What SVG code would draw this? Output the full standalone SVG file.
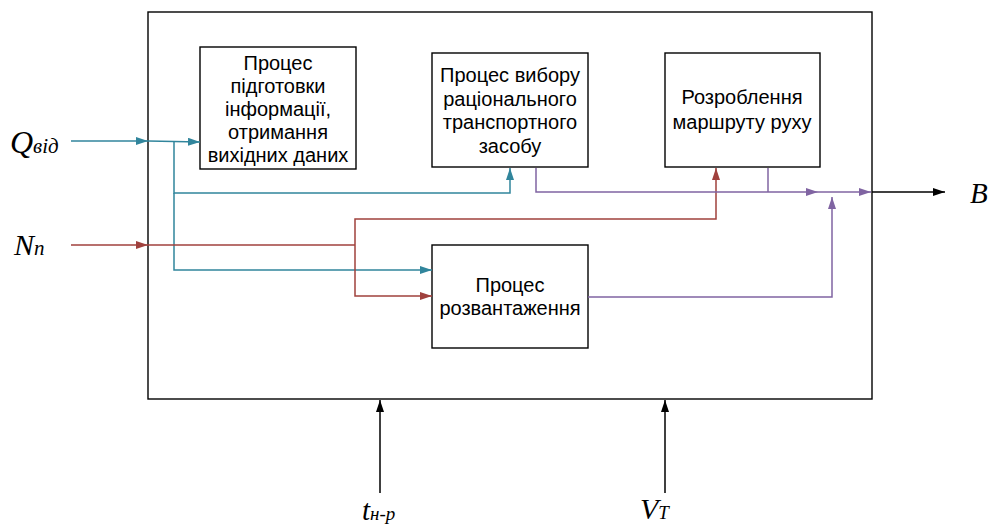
<svg xmlns="http://www.w3.org/2000/svg" width="990" height="527" viewBox="0 0 990 527">
<style>
.box{fill:#fff;stroke:#000;stroke-width:1.4}
.lbl{font-family:"Liberation Sans",Arial,sans-serif;font-size:20px;fill:#000;text-anchor:middle}
.var{font-family:"Liberation Serif","Times New Roman",serif;font-style:italic;fill:#000}
.t{stroke:#31859C;stroke-width:1.5;fill:none}
.r{stroke:#A0413D;stroke-width:1.5;fill:none}
.p{stroke:#8064A2;stroke-width:1.5;fill:none}
.k{stroke:#000;stroke-width:1.5;fill:none}
</style>
<defs>
<marker id="at" markerWidth="12" markerHeight="8" refX="12" refY="4" orient="auto" markerUnits="userSpaceOnUse"><path d="M0,0 L12,4 L0,8 Z" fill="#31859C"/></marker>
<marker id="ar" markerWidth="12" markerHeight="8" refX="12" refY="4" orient="auto" markerUnits="userSpaceOnUse"><path d="M0,0 L12,4 L0,8 Z" fill="#A0413D"/></marker>
<marker id="ap" markerWidth="12" markerHeight="8" refX="12" refY="4" orient="auto" markerUnits="userSpaceOnUse"><path d="M0,0 L12,4 L0,8 Z" fill="#8064A2"/></marker>
<marker id="ak" markerWidth="12" markerHeight="8" refX="12" refY="4" orient="auto" markerUnits="userSpaceOnUse"><path d="M0,0 L12,4 L0,8 Z" fill="#000"/></marker>
</defs>
<rect id="outer" x="148" y="12" width="724" height="387" fill="#fff" stroke="#000" stroke-width="1.4"/>
<g id="node-prep">
<rect class="box" x="200" y="47" width="156" height="122"/>
<text class="lbl" x="278" y="70">Процес</text>
<text class="lbl" x="278" y="93">підготовки</text>
<text class="lbl" x="278" y="116">інформації,</text>
<text class="lbl" x="278" y="139">отримання</text>
<text class="lbl" x="278" y="162">вихідних даних</text>
</g>
<g id="node-select">
<rect class="box" x="432" y="53" width="156" height="114"/>
<text class="lbl" x="510" y="82">Процес вибору</text>
<text class="lbl" x="510" y="105.5">раціонального</text>
<text class="lbl" x="510" y="129">транспортного</text>
<text class="lbl" x="510" y="153">засобу</text>
</g>
<g id="node-route">
<rect class="box" x="665" y="53" width="155" height="114"/>
<text class="lbl" x="742" y="104">Розроблення</text>
<text class="lbl" x="742" y="129">маршруту руху</text>
</g>
<g id="node-unload">
<rect class="box" x="432" y="245" width="156" height="103"/>
<text class="lbl" x="510" y="292">Процес</text>
<text class="lbl" x="510" y="315">розвантаження</text>
</g>
<g id="connectors">
<path class="t" d="M71,141 H148" marker-end="url(#at)"/>
<path class="t" d="M148,141 L200,142" marker-end="url(#at)"/>
<path class="t" d="M174,141 V193 H510 V168" marker-end="url(#at)"/>
<path class="t" d="M174,193 V270 H432" marker-end="url(#at)"/>
<path class="r" d="M71,245 H148" marker-end="url(#ar)"/>
<path class="r" d="M148,245 H355"/>
<path class="r" d="M355,245 V219 H716 V168" marker-end="url(#ar)"/>
<path class="r" d="M355,245 V296 H432" marker-end="url(#ar)"/>
<path class="p" d="M536,168 V192 H818" marker-end="url(#ap)"/>
<path class="p" d="M768,168 V192"/>
<path class="p" d="M818,192 H871" marker-end="url(#ap)"/>
<path class="p" d="M588,297 H832 V197" marker-end="url(#ap)"/>
<path class="k" d="M872,192 H945" marker-end="url(#ak)"/>
<path class="k" d="M380,493 V400" marker-end="url(#ak)"/>
<path class="k" d="M665,493 V400" marker-end="url(#ak)"/>
</g>
<g id="labels">
<text class="var" x="10" y="153" font-size="32">Q<tspan font-size="21">від</tspan></text>
<text class="var" x="14" y="255" font-size="30">N<tspan font-size="21">n</tspan></text>
<text class="var" x="970" y="203" font-size="29">B</text>
<text class="var" x="362" y="520" font-size="29">t<tspan font-size="19">н-р</tspan></text>
<text class="var" x="640" y="519" font-size="30">V<tspan font-size="19">T</tspan></text>
</g>
</svg>
